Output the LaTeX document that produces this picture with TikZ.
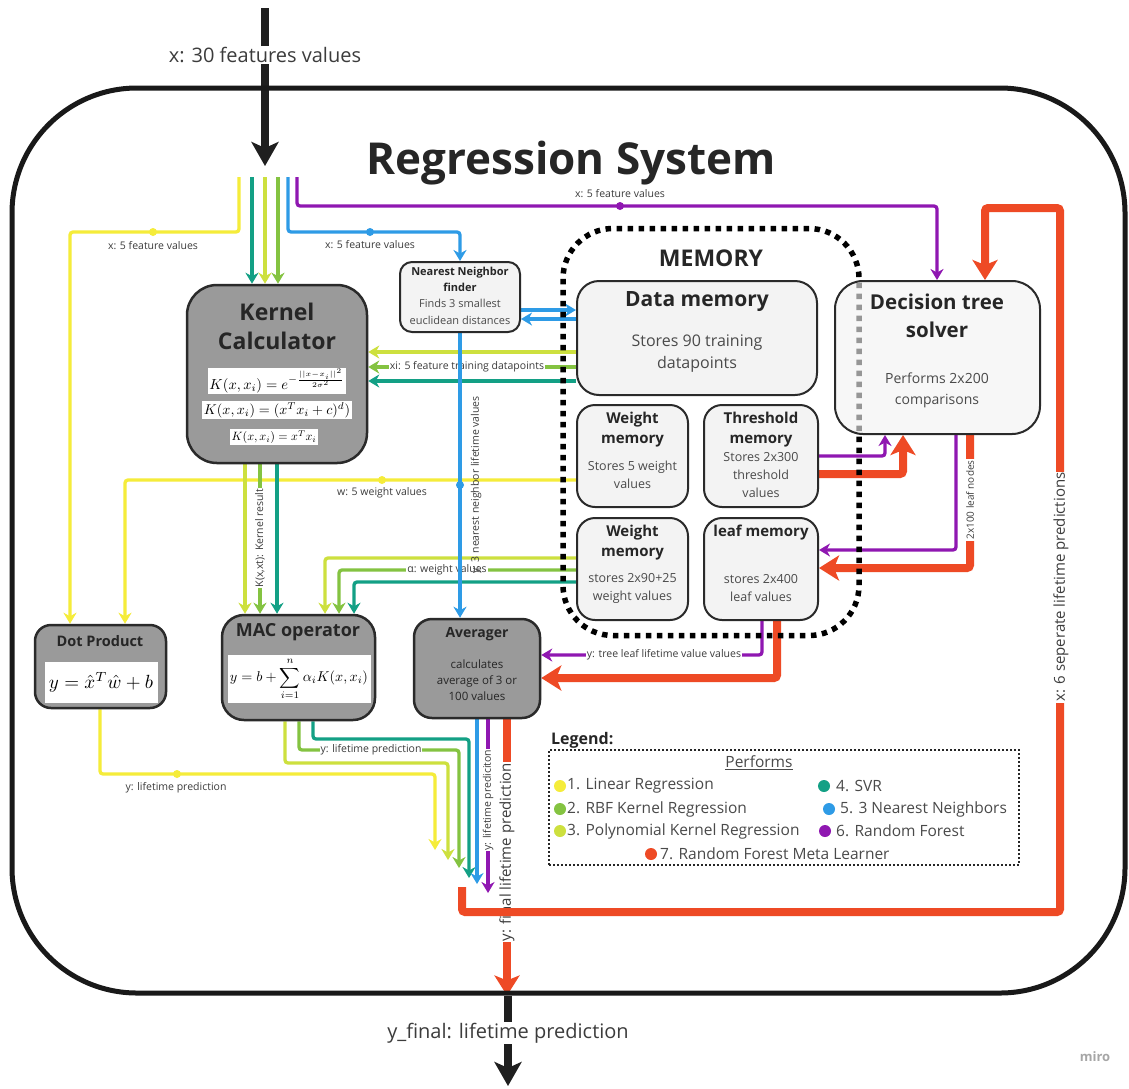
\documentclass[tikz,border=0pt]{standalone}
\usepackage{amsmath}
\usepackage{graphicx}
\usepackage{fontspec}
\setmainfont{Open Sans}
\usetikzlibrary{arrows.meta}
\definecolor{cyel}{HTML}{F5EC3A}
\definecolor{clime}{HTML}{CDE03E}
\definecolor{cgrn}{HTML}{84C341}
\definecolor{cteal}{HTML}{13A085}
\definecolor{cblue}{HTML}{2E9BE6}
\definecolor{cpurp}{HTML}{8F17B1}
\definecolor{cred}{HTML}{EE4A25}
\definecolor{boxgray}{HTML}{9A9A9A}
\definecolor{boxlight}{HTML}{F3F3F3}
\definecolor{edgec}{HTML}{2A2A2A}
\definecolor{titlec}{HTML}{262626}
\definecolor{bodyc}{HTML}{4A4A4A}
\definecolor{lblc}{HTML}{3C3C3C}
\newcommand{\fsz}[2]{\fontsize{#1}{#2}\selectfont}
\pgfdeclarelayer{background}
\pgfdeclarelayer{lines}
\pgfsetlayers{background,lines,main}
\tikzset{
  grbox/.style={draw=edgec, line width=2.5pt, fill=boxgray, inner sep=0pt},
  ltbox/.style={draw=edgec, line width=2pt, fill=boxlight, inner sep=0pt},
  ttl/.style={text=titlec, align=center, inner sep=0pt, font=\bfseries},
  bodytxt/.style={text=bodyc, align=center, inner sep=0pt},
  flow/.style={line width=3.3pt, rounded corners=3pt, -{Stealth[length=11pt,width=13pt,inset=3.5pt]}},
  bigflow/.style={draw=cred, line width=8pt, rounded corners=3pt, -{Stealth[length=20pt,width=25pt,inset=5pt]}},
  blackflow/.style={draw=black!88, line width=8pt, -{Stealth[length=24pt,width=27pt,inset=6pt]}},
  lab/.style={text=lblc, fill=white, inner sep=1pt, font=\fsz{10.5}{12}},
  labn/.style={text=lblc, inner sep=1pt, font=\fsz{10.5}{12}},
  jdot/.style={circle, fill=#1, inner sep=0pt, minimum size=8pt},
  fbox/.style={fill=white, inner sep=2pt},
  ldot/.style={circle, fill=#1, inner sep=0pt, minimum size=12pt},
  legt/.style={anchor=west, text=bodyc, inner sep=0pt, font=\fsz{15.5}{18}},
}
\begin{document}
\begin{tikzpicture}[x=1pt,y=-1pt]
\begin{pgfonlayer}{background}
\fill[white] (0,0) rectangle (1129,1088);
\end{pgfonlayer}
\useasboundingbox (0,0) rectangle (1129,1088);

% system frame and title
\node[draw=black!90, line width=5pt, rounded corners=125pt, minimum width=1113pt, minimum height=905pt, inner sep=0pt] (sys) at (568.5,540.5) {};
\node[ttl, font=\bfseries\fsz{44}{48}] (title) at (571,163) {Regression System};

% Kernel calculator
\node[grbox, rounded corners=30pt, minimum width=180pt, minimum height=178pt] (kc) at (277,374) {};
\node[ttl, font=\bfseries\fsz{23}{29}] (kct) at (277,326) {Kernel\\Calculator};
\node[fbox, inner sep=1.5pt] (f1) at (277,381) {\resizebox{135pt}{!}{$K(x,x_i)=e^{-\frac{||x-x_i||^2}{2\sigma^2}}$}};
\node[fbox, inner sep=1.5pt] (f2) at (277,410) {\resizebox{146pt}{!}{$K(x,x_i)=(x^Tx_i+c)^d)$}};
\node[fbox, inner sep=1.5pt] (f3) at (274,437) {\resizebox{85pt}{!}{$K(x,x_i)=x^Tx_i$}};

% Nearest neighbor finder
\node[ltbox, rounded corners=12pt, minimum width=120pt, minimum height=70pt] (nn) at (460,297) {};
\node[ttl, font=\bfseries\fsz{11}{16}] (nnt) at (460,279) {Nearest Neighbor\\finder};
\node[bodytxt, font=\fsz{11}{17}] (nnb) at (460,312) {Finds 3 smallest\\euclidean distances};

% Memory
\node[draw=black, line width=5.5pt, dash pattern=on 5.5pt off 5.5pt, rounded corners=50pt, minimum width=296pt, minimum height=407pt, inner sep=0pt] (mem) at (711,432) {};
\node[ttl, font=\bfseries\fsz{23}{27}] (memt) at (711,258) {MEMORY};

\node[ltbox, rounded corners=22pt, minimum width=240pt, minimum height=114pt] (dm) at (697,338) {};
\node[ttl, font=\bfseries\fsz{21}{25}] (dmt) at (697,302) {Data memory};
\node[bodytxt, font=\fsz{16}{22}] (dmb) at (697,354) {Stores 90 training\\datapoints};

\node[ltbox, rounded corners=18pt, minimum width=111pt, minimum height=102pt] (wm1) at (632.5,456) {};
\node[ttl, font=\bfseries\fsz{15}{20}] (wm1t) at (632.5,430) {Weight\\memory};
\node[bodytxt, font=\fsz{12.5}{18}] (wm1b) at (632.5,475) {Stores 5 weight\\values};

\node[ltbox, rounded corners=18pt, minimum width=114pt, minimum height=102pt] (tm) at (761,456) {};
\node[ttl, font=\bfseries\fsz{15}{20}] (tmt) at (761,430) {Threshold\\memory};
\node[bodytxt, font=\fsz{12.5}{18}] (tmb) at (761,475) {Stores 2x300\\threshold\\values};

\node[ltbox, rounded corners=18pt, minimum width=111pt, minimum height=102pt] (wm2) at (632.5,569) {};
\node[ttl, font=\bfseries\fsz{15}{20}] (wm2t) at (632.5,543) {Weight\\memory};
\node[bodytxt, font=\fsz{12.5}{18}] (wm2b) at (632.5,588) {stores 2x90+25\\weight values};

\node[ltbox, rounded corners=18pt, minimum width=114pt, minimum height=102pt] (lm) at (761,569) {};
\node[ttl, font=\bfseries\fsz{15}{20}] (lmt) at (761,533) {leaf memory};
\node[bodytxt, font=\fsz{12.5}{18}] (lmb) at (761,588) {stores 2x400\\leaf values};

% Decision tree solver
\node[ltbox, fill opacity=0.62, rounded corners=28pt, minimum width=205pt, minimum height=153pt] (dt) at (937.5,357.5) {};
\node[ttl, font=\bfseries\fsz{20.5}{28}] (dtt) at (937,316) {Decision tree\\solver};
\node[bodytxt, font=\fsz{14}{21}] (dtb) at (937,390) {Performs 2x200\\comparisons};

% Dot product
\node[grbox, rounded corners=16pt, minimum width=131pt, minimum height=83pt] (dp) at (100.5,666.5) {};
\node[ttl, font=\bfseries\fsz{14.5}{17}] (dpt) at (100,641) {Dot Product};
\node[fbox, minimum width=113pt, minimum height=41pt] (dpf) at (101,682) {\resizebox{104pt}{!}{$y=\hat{x}^T\hat{w}+b$}};

% MAC operator
\node[grbox, rounded corners=22pt, minimum width=153pt, minimum height=105pt] (mac) at (298.5,667.5) {};
\node[ttl, font=\bfseries\fsz{18}{21}] (mact) at (298,632) {MAC operator};
\node[fbox, minimum width=143pt, minimum height=48pt] (macf) at (299,679) {\resizebox{138pt}{!}{$y=b+\displaystyle\sum_{i=1}^{n}\alpha_iK(x,x_i)$}};

% Averager
\node[grbox, rounded corners=18pt, minimum width=126pt, minimum height=99pt] (avg) at (477,668.5) {};
\node[ttl, font=\bfseries\fsz{14}{17}] (avgt) at (477,634) {Averager};
\node[bodytxt, text=titlec, font=\fsz{11.5}{16}] (avgb) at (477,680) {calculates\\average of 3 or\\100 values};

% free ends
\coordinate (src) at (265,8);
\coordinate (split) at (265,166);
\coordinate (sY) at (239,177);
\coordinate (sT) at (252,177);
\coordinate (sL) at (265,177);
\coordinate (sG) at (278,177);
\coordinate (sB) at (288,177);
\coordinate (sP) at (297,177);
\coordinate (eY) at (435,850);
\coordinate (eL) at (448,860);
\coordinate (eG) at (459,868);
\coordinate (eT) at (469,878);
\coordinate (eB) at (477,884);
\coordinate (eP) at (488,893);
\coordinate (rS) at (462,887);
\coordinate (outE) at (508,1086);

\begin{pgfonlayer}{lines}
% input
\draw[blackflow] (src) -- (split);
\node[lab, font=\fsz{20}{24}] (inlab) at (265,55) {x: 30 features values};

\draw[flow, cyel] (sY) -- (239,232) -- (70,232) -- (70,0 |- dp.north);
\draw[flow, cteal] (sT) -- (252,0 |- kc.north);
\draw[flow, clime] (sL) -- (265,0 |- kc.north);
\draw[flow, cgrn] (sG) -- (278,0 |- kc.north);
\draw[flow, cblue] (sB) -- (288,232) -- (460,232) -- (nn.north);
\draw[flow, cpurp] (sP) -- (297,206) -- (937,206) -- (937,0 |- dt.north);
\node[jdot=cyel] (j1) at (153,232) {};
\node[labn] (l1) at (153,246) {x: 5 feature values};
\node[jdot=cblue] (j2) at (370,232) {};
\node[labn] (l2) at (370,245) {x: 5 feature values};
\node[jdot=cpurp] (j3) at (620,206) {};
\node[labn] (l3) at (620,194) {x: 5 feature values};

% NN <-> data memory
\draw[flow, cblue] (nn.east |- 0,310) -- (dm.west |- 0,310);
\draw[flow, cblue] (dm.west |- 0,319) -- (nn.east |- 0,319);

% data memory -> kernel
\draw[flow, clime] (dm.west |- 0,352) -- (kc.east |- 0,352);
\draw[flow, cgrn] (dm.west |- 0,367) -- (kc.east |- 0,367);
\draw[flow, cteal] (dm.west |- 0,381) -- (kc.east |- 0,381);
\node[lab] (l4) at (467,367) {xi: 5 feature training datapoints};

% weight memory -> dot product
\draw[flow, cyel] (wm1.west |- 0,480) -- (125,480) -- (125,0 |- dp.north);
\node[jdot=cyel] (j4) at (382,480) {};
\node[labn] (l5) at (382,493) {w: 5 weight values};

% kernel -> MAC
\draw[flow, clime] (245,0 |- kc.south) -- (245,0 |- mac.north);
\draw[flow, cgrn] (260,0 |- kc.south) -- (260,0 |- mac.north);
\draw[flow, cteal] (277,0 |- kc.south) -- (277,0 |- mac.north);
\node[lab, rotate=90] (l6) at (260,538) {K(x,xt): Kernel result};

% weight memory 2 -> MAC
\draw[flow, clime] (wm2.west |- 0,558) -- (325,558) -- (325,0 |- mac.north);
\draw[flow, cgrn] (wm2.west |- 0,570) -- (339,570) -- (339,0 |- mac.north);
\draw[flow, cteal] (wm2.west |- 0,582) -- (354,582) -- (354,0 |- mac.north);
\node[lab] (l7) at (447,570) {α: weight values};

% NN -> averager
\draw[flow, cblue] (nn.south) -- (nn.south |- avg.north);
\node[jdot=cblue] (j5) at (460,485) {};
\node[labn, rotate=90] (l8) at (476,485) {y: 3 nearest neighbor lifetime values};

% threshold -> tree
\draw[flow, cpurp] (tm.east |- 0,456) -- (885,456) -- (885,0 |- dt.south);
\draw[bigflow] (tm.east |- 0,474) -- (903,474) -- (903,0 |- dt.south);

% tree -> leaf
\draw[flow, cpurp] (956,0 |- dt.south) -- (956,550) -- (lm.east |- 0,550);
\draw[bigflow] (970,0 |- dt.south) -- (970,568) -- (lm.east |- 0,568);
\node[lab, rotate=90, font=\fsz{10}{12}] (l9) at (970,500) {2x100 leaf nodes};

% leaf -> averager
\draw[flow, cpurp] (762,0 |- lm.south) -- (762,655) -- (avg.east |- 0,655);
\draw[bigflow] (777,0 |- lm.south) -- (777,678) -- (avg.east |- 0,678);
\node[lab] (l10) at (664,655) {y: tree leaf lifetime value values};

% outputs
\draw[flow, cyel] (100,0 |- dp.south) -- (100,774) -- (435,774) -- (eY);
\node[jdot=cyel] (j6) at (177,774) {};
\node[labn] (l11) at (176,788) {y: lifetime prediction};
\draw[flow, clime] (285,0 |- mac.south) -- (285,763) -- (448,763) -- (eL);
\draw[flow, cgrn] (299,0 |- mac.south) -- (299,750) -- (459,750) -- (eG);
\node[lab] (l12) at (371,750) {y: lifetime prediction};
\draw[flow, cteal] (313,0 |- mac.south) -- (313,739) -- (469,739) -- (eT);
\draw[flow, cblue] (477,0 |- avg.south) -- (eB);
\draw[flow, cpurp] (488,0 |- avg.south) -- (eP);
\node[lab, rotate=90] (l13) at (488,800) {y: lifetime prediciton};

% final output
\draw[bigflow] (507,0 |- avg.south) -- (507,0 |- sys.south);
\node[lab, rotate=90, font=\fsz{15}{18}] (l14) at (507,852) {y: final lifetime prediction};
\draw[bigflow] (rS) -- (462,912) -- (1060,912) -- (1060,208) -- (985,208) -- (985,0 |- dt.north);
\node[lab, rotate=90, font=\fsz{15}{18}] (l15) at (1061,587) {x: 6 seperate lifetime predictions};
\draw[blackflow] (508,0 |- sys.south) -- (outE);
\node[lab, font=\fsz{20}{24}] (outlab) at (508,1033) {y\_final: lifetime prediction};
\end{pgfonlayer}

% legend
\node[anchor=west, inner sep=0pt, text=titlec, font=\bfseries\fsz{16}{18}] (legt) at (551,740) {Legend:};
\node[draw=black!85, line width=2pt, dash pattern=on 2pt off 2pt, minimum width=470pt, minimum height=115pt, inner sep=0pt] (leg) at (784,807.5) {};
\node[text=bodyc, inner sep=0pt, font=\fsz{15.5}{18}] (perf) at (759,763) {\underline{Performs}};
\node[ldot=cyel] (d1) at (560,786) {};
\node[legt] (t1) at (567,786) {1. Linear Regression};
\node[ldot=cgrn] (d2) at (560,809) {};
\node[legt] (t2) at (567,809) {2. RBF Kernel Regression};
\node[ldot=clime] (d3) at (560,831) {};
\node[legt] (t3) at (567,831) {3. Polynomial Kernel Regression};
\node[ldot=cteal] (d4) at (824,786) {};
\node[legt] (t4) at (836,786) {4. SVR};
\node[ldot=cblue] (d5) at (829,809) {};
\node[legt] (t5) at (840,809) {5. 3 Nearest Neighbors};
\node[ldot=cpurp] (d6) at (825,831) {};
\node[legt] (t6) at (836,831) {6. Random Forest};
\node[ldot=cred] (d7) at (651,854) {};
\node[legt] (t7) at (660,854) {7. Random Forest Meta Learner};

\node[text=black!35, font=\bfseries\fsz{13}{15}] (miro) at (1095,1057) {miro};
\end{tikzpicture}
\end{document}
